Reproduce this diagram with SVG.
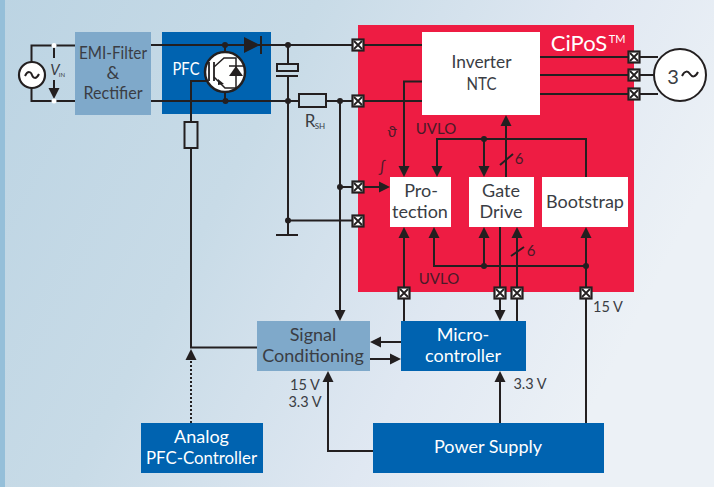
<svg xmlns="http://www.w3.org/2000/svg" xmlns:xlink="http://www.w3.org/1999/xlink" width="714" height="487" viewBox="0 0 714 487">
<style>
text{font-family:Lato,"Open Sans","Liberation Sans",sans-serif;font-size:18px;text-anchor:middle;fill:#3a3d44}
.w{fill:#fff}
.s{font-size:14.500px}
.r{fill:#4a1a28;font-size:15px}
.wire{fill:none;stroke:#231f20;stroke-width:2}
.arr{marker-end:url(#ah)}
.dot{fill:#231f20}
.blue{fill:#0063b0}
.lblue{fill:#7fa9ca}
.white{fill:#fff}
.comp{fill:none;stroke:#231f20;stroke-width:2}
</style>
<defs>
<linearGradient id="bg" x1="0" y1="0" x2="1" y2="0.35">
<stop offset="0" stop-color="#bcd4e3"/><stop offset="0.4" stop-color="#c8dbe7"/><stop offset="0.75" stop-color="#e0e8f2"/><stop offset="1" stop-color="#ecf1f6"/>
</linearGradient>
<marker id="ah" markerUnits="userSpaceOnUse" markerWidth="11" markerHeight="12" refX="9" refY="6" orient="auto">
<path d="M0,0.500 L11,6 L0,11.500 Z" fill="#231f20"/>
</marker>
<g id="port">
<rect x="-5.500" y="-5.500" width="11" height="11" fill="#fff" stroke="#231f20" stroke-width="2.200"/>
<path d="M-4,-4 L4,4 M4,-4 L-4,4" stroke="#231f20" stroke-width="1.800"/>
</g>
</defs>
<rect width="714" height="487" fill="url(#bg)"/>
<rect width="5" height="487" fill="#95bfd9"/>
<g id="cipos"><rect x="358" y="25" width="276" height="267" fill="#ee1c43"/>
<text class="w" x="579" y="51" style="font-size:22px">CiPoS</text><text class="w" x="617" y="43" style="font-size:11px">TM</text></g>
<g id="emi"><rect class="lblue" x="75" y="32" width="76" height="83"/>
<text x="113" y="59" textLength="68" lengthAdjust="spacingAndGlyphs">EMI-Filter</text><text x="113" y="79">&amp;</text><text x="113" y="99" textLength="59" lengthAdjust="spacingAndGlyphs">Rectifier</text></g>
<g id="pfc"><rect class="blue" x="162" y="32" width="109" height="82"/>
<text class="w" x="186" y="75" textLength="27" lengthAdjust="spacingAndGlyphs">PFC</text></g>
<g id="inverter"><rect class="white" x="422" y="32" width="118" height="83"/>
<text x="481.500" y="68" textLength="60" lengthAdjust="spacingAndGlyphs">Inverter</text><text x="481.500" y="90" textLength="30" lengthAdjust="spacingAndGlyphs">NTC</text></g>
<g id="protection"><rect class="white" x="390" y="177" width="61" height="50"/>
<text x="421" y="197">Pro-</text><text x="420" y="218">tection</text></g>
<g id="gate"><rect class="white" x="469" y="177" width="65" height="50"/>
<text x="501" y="197">Gate</text><text x="501" y="218">Drive</text></g>
<g id="bootstrap"><rect class="white" x="542" y="177" width="86" height="50"/>
<text x="585" y="208">Bootstrap</text></g>
<g id="signal"><rect class="lblue" x="257" y="321" width="113" height="50"/>
<text x="313" y="341">Signal</text><text x="313" y="362">Conditioning</text></g>
<g id="micro"><rect class="blue" x="401" y="321" width="125" height="50"/>
<text class="w" x="463" y="341">Micro-</text><text class="w" x="463" y="362">controller</text></g>
<g id="analog"><rect class="blue" x="141" y="423" width="122" height="50"/>
<text class="w" x="201.500" y="443">Analog</text><text class="w" x="201.500" y="464" textLength="111" lengthAdjust="spacingAndGlyphs">PFC-Controller</text></g>
<g id="power"><rect class="blue" x="373" y="423" width="231" height="50"/>
<text class="w" x="488" y="453">Power Supply</text></g>
<g id="connectors">
<path class="wire" d="M75,45.500H31.500V101H75M151,45H352M151,101H299M326,101H352"/>
<path class="wire" d="M54,46V58"/>
<path class="wire arr" d="M54,80V97"/>
<path class="wire" d="M288,45V64M288,76V235M340,101V187M288,220.500H352"/>
<path class="wire arr" d="M340,187V319"/>
<path class="wire arr" d="M340,187H388"/>
<path class="wire" d="M352,45H422M364,101H422"/>
<path class="wire arr" d="M422,81.500H404V175"/>
<path class="wire arr" d="M586,177V139H437V175"/>
<path class="wire arr" d="M484,139V175"/>
<path class="wire arr" d="M506,177V117"/>
<path class="wire" d="M500,165L513,154M511,256L524,247"/>
<path class="wire" d="M540,57H658M540,75H654M540,94H658"/>
<path class="wire arr" d="M404,321V229"/>
<path class="wire arr" d="M586,266H434V229"/>
<path class="wire arr" d="M484,266V229"/>
<path class="wire arr" d="M586,423V229"/>
<path class="wire arr" d="M500,227V319"/>
<path class="wire arr" d="M517,321V229"/>
<path class="wire arr" d="M401,342H372"/>
<path class="wire arr" d="M370,359H399"/>
<path class="wire" d="M208,81H191V122M191,148V347.500H257"/>
<path class="wire arr" d="M191,423V351" style="stroke-dasharray:2 2"/>
<path class="wire arr" d="M373,451H328V373"/>
<path class="wire arr" d="M500,423V373"/>
<path class="wire" d="M276,76H298M276,235H298"/>
</g>
<g id="junctions">
<circle class="dot" cx="225" cy="45" r="3"/><circle class="dot" cx="225.500" cy="101" r="3"/>
<circle class="dot" cx="288" cy="45" r="3"/><circle class="dot" cx="288" cy="101" r="3"/><circle class="dot" cx="288" cy="220.500" r="3"/>
<circle class="dot" cx="340" cy="101" r="3"/><circle class="dot" cx="340" cy="187" r="3"/>
<circle class="dot" cx="484" cy="139" r="3"/><circle class="dot" cx="484" cy="266" r="3"/><circle class="dot" cx="586" cy="266" r="3"/>
<circle cx="54" cy="45.500" r="2.500" fill="#fff"/><circle cx="54" cy="101" r="2.500" fill="#fff"/>
</g>
<g id="source"><circle cx="32" cy="75" r="13" fill="#fff" stroke="#231f20" stroke-width="2.200"/>
<path d="M25,76C28,70 31,72 32,75C33,78 36,80 39,74" class="comp"/>
<text x="55" y="75" style="font-style:italic;font-size:15px">V</text><text x="62" y="77" style="font-size:6px">IN</text></g>
<g id="diode"><path class="dot" d="M244,37L260,45L244,53Z"/><path class="wire" d="M261,36V54"/></g>
<g id="igbt"><circle cx="225" cy="72" r="20" fill="#fff" stroke="#231f20" stroke-width="2.500"/>
<path d="M225,45V52M225,92V101" class="comp"/>
<path d="M214,62V81M209,62V81" style="fill:none;stroke:#231f20;stroke-width:1.800"/>
<path d="M214,67L224,58H236V88H225L214,77" style="fill:none;stroke:#231f20;stroke-width:1.500"/>
<path class="dot" d="M229,76H243L236,66Z"/><path d="M229,66H243" style="stroke:#231f20;stroke-width:1.500"/>
<path class="dot" d="M218,79L224,84L218,85Z"/></g>
<g id="capacitor"><rect x="277" y="64" width="21" height="7" fill="#c8dbe7" stroke="#231f20" stroke-width="2"/></g>
<g id="rsh"><rect x="299" y="94" width="27" height="13" fill="#c8dbe7" stroke="#231f20" stroke-width="2"/>
<text x="310" y="127" style="font-size:17px">R</text><text x="320" y="129" style="font-size:8px">SH</text></g>
<g id="rgate"><rect x="184.500" y="122" width="13" height="26" fill="#c8dbe7" stroke="#231f20" stroke-width="2"/></g>
<g id="motor"><circle cx="680" cy="75" r="26" fill="#fff" stroke="#231f20" stroke-width="2"/>
<text x="673" y="84" style="font-size:20px">3</text>
<path d="M682,76C685,70 688,71 690,74C692,77 695,78 698,72" class="comp"/></g>
<g id="ports">
<use xlink:href="#port" href="#port" x="358" y="45"/><use xlink:href="#port" href="#port" x="358" y="101"/><use xlink:href="#port" href="#port" x="358" y="187"/><use xlink:href="#port" href="#port" x="358" y="221"/>
<use xlink:href="#port" href="#port" x="634" y="57"/><use xlink:href="#port" href="#port" x="634" y="75"/><use xlink:href="#port" href="#port" x="634" y="94"/>
<use xlink:href="#port" href="#port" x="404" y="293"/><use xlink:href="#port" href="#port" x="500" y="293"/><use xlink:href="#port" href="#port" x="517" y="293"/><use xlink:href="#port" href="#port" x="586" y="293"/>
</g>
<g id="labels">
<text class="r" x="436" y="134">UVLO</text><text class="r" x="439" y="284">UVLO</text>
<text class="r" x="392" y="137">ϑ</text><text class="r" x="382" y="172" style="font-style:italic">∫</text>
<text class="r" x="519" y="164">6</text><text class="r" x="531" y="256">6</text>
<text class="s" x="608" y="312">15 V</text><text class="s" x="305" y="390">15 V</text><text class="s" x="305" y="407">3.3 V</text><text class="s" x="530" y="389">3.3 V</text>
</g>
</svg>
